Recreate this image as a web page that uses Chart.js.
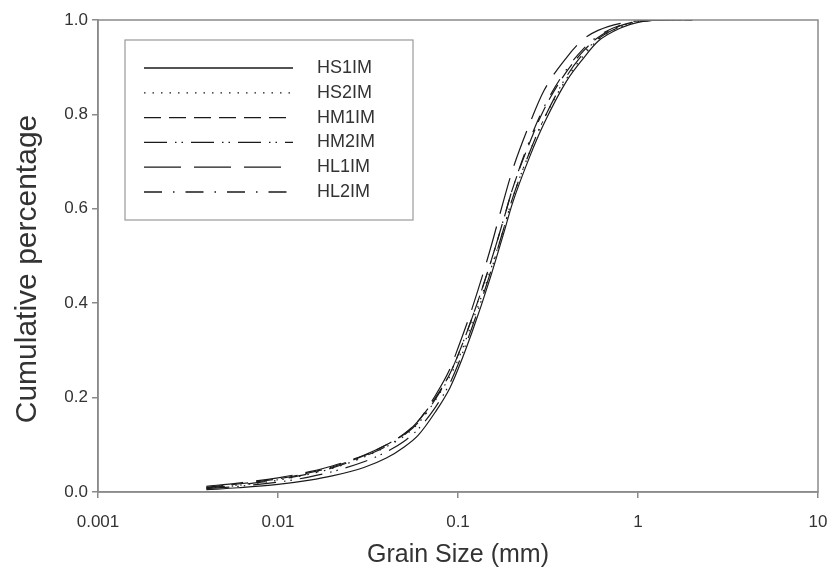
<!DOCTYPE html>
<html>
<head>
<meta charset="utf-8">
<script src="https://cdn.jsdelivr.net/npm/chart.js@4.4.1/dist/chart.umd.min.js"></script>
<style>
  html, body { margin: 0; padding: 0; background: #fff; }
  #wrap { width: 835px; height: 576px; }
</style>
</head>
<body>
<div id="wrap"><canvas id="grainChart" width="835" height="576"></canvas></div>
<script>
// ===== DATA =====
var grainSizes = [0.004, 0.006, 0.01, 0.015, 0.02, 0.03, 0.04, 0.05, 0.06, 0.075, 0.09, 0.1, 0.12, 0.15, 0.18, 0.2, 0.25, 0.3, 0.4, 0.5, 0.6, 0.8, 1, 1.5, 2];

var hs1im = [0.005, 0.009, 0.016, 0.025, 0.034, 0.052, 0.072, 0.095, 0.12, 0.17, 0.22, 0.26, 0.34, 0.45, 0.55, 0.61, 0.71, 0.78, 0.87, 0.92, 0.955, 0.983, 0.995, 1.0, 1.0];
var hs2im = [0.008, 0.014, 0.025, 0.038, 0.05, 0.074, 0.096, 0.118, 0.145, 0.195, 0.245, 0.28, 0.36, 0.465, 0.56, 0.62, 0.72, 0.79, 0.875, 0.925, 0.958, 0.985, 0.996, 1.0, 1.0];
var hm1im = [0.01, 0.017, 0.028, 0.041, 0.053, 0.077, 0.1, 0.123, 0.15, 0.2, 0.25, 0.29, 0.37, 0.48, 0.58, 0.64, 0.74, 0.81, 0.89, 0.935, 0.963, 0.988, 0.997, 1.0, 1.0];
var hm2im = [0.007, 0.012, 0.021, 0.032, 0.043, 0.064, 0.085, 0.107, 0.133, 0.18, 0.23, 0.27, 0.35, 0.46, 0.56, 0.62, 0.72, 0.79, 0.88, 0.93, 0.96, 0.986, 0.996, 1.0, 1.0];
var hl1im = [0.012, 0.019, 0.03, 0.043, 0.055, 0.078, 0.1, 0.122, 0.15, 0.205, 0.26, 0.305, 0.39, 0.51, 0.62, 0.68, 0.78, 0.85, 0.92, 0.96, 0.978, 0.993, 0.998, 1.0, 1.0];
var hl2im = [0.009, 0.015, 0.026, 0.039, 0.051, 0.075, 0.097, 0.12, 0.147, 0.197, 0.25, 0.29, 0.37, 0.48, 0.58, 0.64, 0.745, 0.815, 0.895, 0.94, 0.966, 0.989, 0.997, 1.0, 1.0];

var seriesNames = ['HS1IM', 'HS2IM', 'HM1IM', 'HM2IM', 'HL1IM', 'HL2IM'];
var xTickValues = [0.001, 0.01, 0.1, 1, 10];
var yTickValues = [0, 0.2, 0.4, 0.6, 0.8, 1.0];
var xTitle = 'Grain Size (mm)';
var yTitle = 'Cumulative percentage';

// dash styles per series (solid, dotted, dashed, dash-dot-dot, long dash, dash-dot)
var dashes = [[], [1.5, 7], [17, 8], [23, 8, 1.5, 5, 1.5, 8], [37, 13], [18, 11, 1.5, 11]];

var FONT = "'Liberation Sans', Arial, sans-serif";
var AXIS_COLOR = '#8a8a8a';
var TEXT_COLOR = '#333';

function toPoints(vals) {
    return grainSizes.map(function(g, i) { return { x: g, y: vals[i] }; });
}

var allValues = [hs1im, hs2im, hm1im, hm2im, hl1im, hl2im];
var datasets = allValues.map(function(vals, i) {
    return {
        label: seriesNames[i],
        data: toPoints(vals),
        borderColor: '#1a1a1a',
        borderWidth: 1.2,
        borderDash: dashes[i],
        pointRadius: 0,
        fill: false,
        cubicInterpolationMode: 'monotone'
    };
});

// ===== PLUGINS =====
// frame around plot area + rotated y title
var framePlugin = {
    id: 'frame',
    afterDraw: function(chart) {
        var a = chart.chartArea, ctx = chart.ctx;
        ctx.save();
        ctx.strokeStyle = AXIS_COLOR;
        ctx.lineWidth = 1.5;
        ctx.setLineDash([]);
        ctx.strokeRect(a.left, a.top, a.right - a.left, a.bottom - a.top);
        // y axis title, sits a bit below the plot centre in the original
        ctx.translate(28, 269);
        ctx.rotate(-Math.PI / 2);
        ctx.font = '30px ' + FONT;
        ctx.fillStyle = TEXT_COLOR;
        ctx.textAlign = 'center';
        ctx.textBaseline = 'middle';
        ctx.fillText(yTitle, 0, 0);
        ctx.restore();
    }
};

// boxed legend inside the plot, upper left
var boxLegend = {
    id: 'boxLegend',
    afterDraw: function(chart) {
        var ctx = chart.ctx;
        var bx = 125, by = 40, bw = 288, bh = 180;
        ctx.save();
        ctx.strokeStyle = '#999';
        ctx.lineWidth = 1.2;
        ctx.setLineDash([]);
        ctx.strokeRect(bx, by, bw, bh);
        ctx.font = '18px ' + FONT;
        ctx.fillStyle = TEXT_COLOR;
        ctx.textBaseline = 'middle';
        chart.data.datasets.forEach(function(ds, i) {
            var y = 68 + i * 24.8;
            ctx.beginPath();
            ctx.strokeStyle = '#1a1a1a';
            ctx.lineWidth = 1.3;
            ctx.setLineDash(ds.borderDash);
            ctx.moveTo(144, y);
            ctx.lineTo(293, y);
            ctx.stroke();
            ctx.fillText(ds.label, 317, y);
        });
        ctx.restore();
    }
};

// ===== CHART =====
new Chart(document.getElementById('grainChart'), {
    type: 'line',
    data: { datasets: datasets },
    options: {
        responsive: false,
        animation: false,
        layout: { padding: { left: 0, right: 17, top: 20, bottom: 0 } },
        plugins: {
            legend: { display: false },
            tooltip: { enabled: false }
        },
        scales: {
            x: {
                type: 'logarithmic',
                min: 0.001,
                max: 10,
                afterBuildTicks: function(scale) {
                    scale.ticks = xTickValues.map(function(v) { return { value: v }; });
                },
                afterFit: function(scale) {
                    scale.height = 84;
                    scale.paddingLeft = 0;
                    scale.paddingRight = 0;
                },
                ticks: {
                    color: TEXT_COLOR,
                    font: { family: FONT, size: 17 },
                    padding: 14,
                    maxRotation: 0,
                    autoSkip: false,
                    callback: function(v) { return String(v); }
                },
                grid: { drawOnChartArea: false, tickLength: 6, color: AXIS_COLOR, lineWidth: 1.5 },
                border: { display: true, color: AXIS_COLOR, width: 1.5 },
                title: {
                    display: true,
                    text: xTitle,
                    color: TEXT_COLOR,
                    font: { family: FONT, size: 25 },
                    padding: { top: 0, bottom: 6 }
                }
            },
            y: {
                min: 0,
                max: 1,
                afterBuildTicks: function(scale) {
                    scale.ticks = yTickValues.map(function(v) { return { value: v }; });
                },
                afterFit: function(scale) { scale.width = 98; },
                ticks: {
                    color: TEXT_COLOR,
                    font: { family: FONT, size: 17 },
                    padding: 4,
                    callback: function(v) { return Number(v).toFixed(1); }
                },
                grid: { drawOnChartArea: false, tickLength: 6, color: AXIS_COLOR, lineWidth: 1.5 },
                border: { display: true, color: AXIS_COLOR, width: 1.5 }
            }
        }
    },
    plugins: [framePlugin, boxLegend]
});
</script>
</body>
</html>
